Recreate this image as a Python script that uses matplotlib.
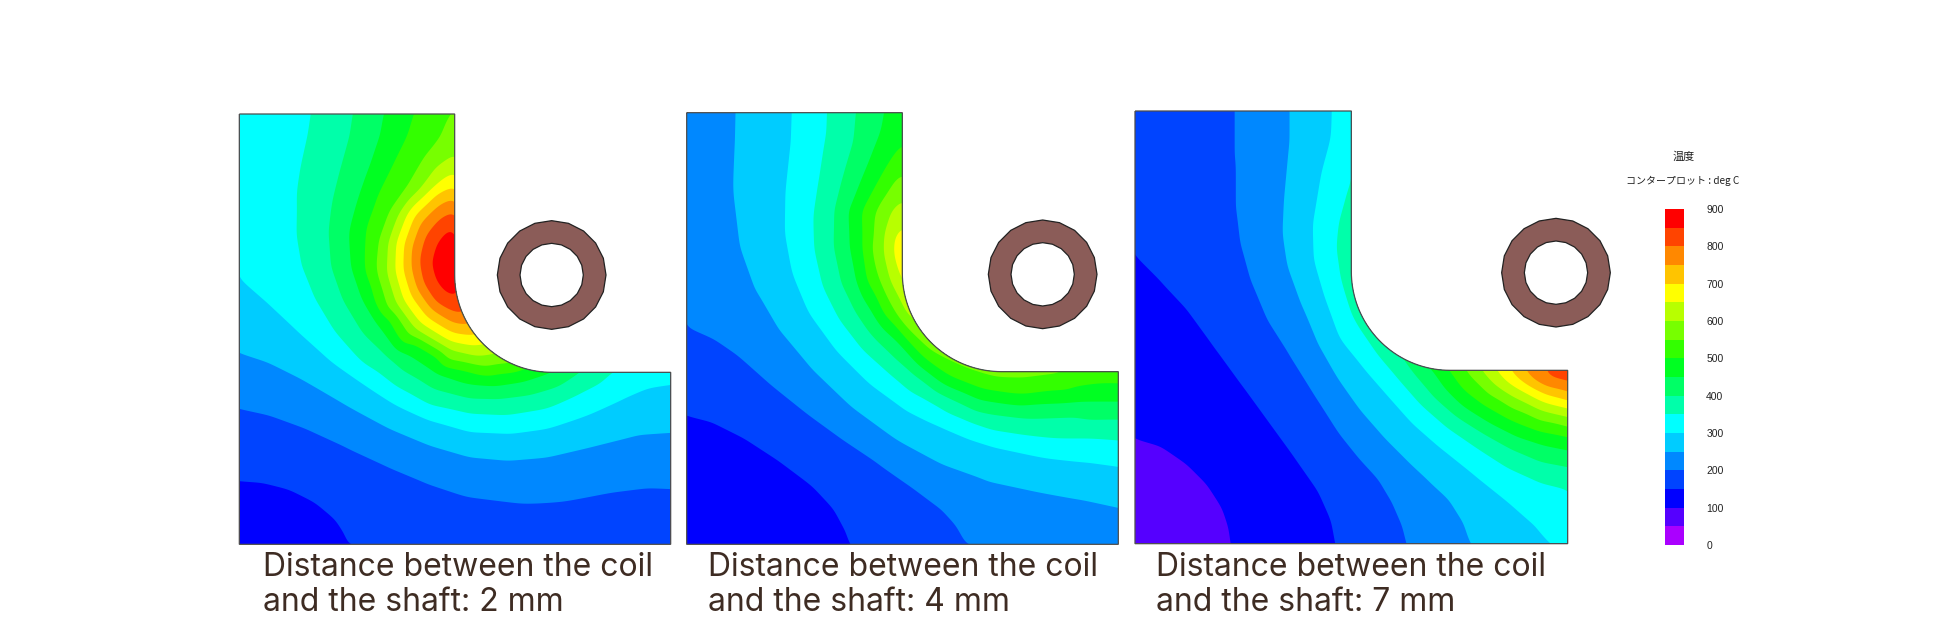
import numpy as np
import matplotlib
matplotlib.use('Agg')
import matplotlib.pyplot as plt
from matplotlib.colors import ListedColormap, BoundaryNorm
from matplotlib.cm import ScalarMappable
from matplotlib.patches import PathPatch, RegularPolygon
from matplotlib.path import Path
from matplotlib.tri import Triangulation, LinearTriInterpolator

############################## values ##############################

levels = list(range(0, 950, 50))
tick_values = list(range(0, 1000, 100))
band_colors = ['#aa00ff', '#5500ff', '#0000ff', '#0044ff', '#0088ff', '#00ccff',
               '#00ffff', '#00ffaa', '#00ff66', '#00ff22', '#33ff00', '#77ff00',
               '#b8ff00', '#ffff00', '#ffc400', '#ff8800', '#ff4400', '#ff0000']

captions = ['Distance between the coil\nand the shaft: 2 mm',
            'Distance between the coil\nand the shaft: 4 mm',
            'Distance between the coil\nand the shaft: 7 mm']

# isotherms: temperature -> points on that line (x, y)
panel1_isotherms = {
    150: [(28,1140),(100,1145),(180,1165),(260,1205),(320,1255),(345,1290),(360,1333)],
    200: [(28,925),(120,945),(230,985),(350,1040),(480,1100),(600,1150),(720,1190),(880,1210),
          (1000,1200),(1130,1175),(1250,1160),(1322,1163)],
    250: [(28,760),(120,790),(230,845),(350,915),(480,985),(600,1035),(720,1070),(830,1080),
          (950,1070),(1100,1035),(1220,1005),(1322,998)],
    300: [(28,535),(120,615),(200,690),(300,780),(400,850),(500,915),(600,960),(720,995),
          (840,1000),(950,985),(1070,945),(1180,895),(1265,858),(1322,850)],
    350: [(250,42),(240,110),(220,200),(205,300),(203,400),(220,500),(260,600),(320,700),
          (400,790),(500,860),(600,915),(720,940),(830,945),(950,925),(1050,880),(1110,850),(1145,817)],
    400: [(370,42),(360,110),(335,200),(310,300),(298,400),(305,500),(340,600),(400,700),
          (480,775),(570,840),(680,885),(800,897),(900,885),(985,860),(1030,830),(1050,817)],
    450: [(462,42),(450,110),(420,200),(385,300),(358,400),(365,500),(395,590),(450,680),
          (530,760),(620,820),(720,852),(800,858),(880,845),(940,825),(965,817)],
    500: [(550,42),(530,110),(490,190),(445,280),(410,380),(405,470),(425,560),(475,650),
          (545,725),(630,775),(720,815),(800,822),(860,815),(895,803)],
    550: [(670,42),(640,100),(590,165),(530,270),(480,340),(447,430),(445,530),(475,630),
          (540,710),(650,780),(770,800),(850,792)],
    600: [(674,162),(620,200),(570,270),(507,340),(475,430),(472,520),(500,610),(560,690),
          (660,750),(740,770),(805,760)],
    650: [(674,215),(635,240),(590,280),(530,345),(498,430),(495,510),(520,600),(570,670),
          (660,725),(730,738),(775,730)],
    700: [(674,258),(615,285),(555,345),(523,430),(520,510),(545,590),(595,655),(670,700),(750,702)],
    750: [(674,292),(625,315),(570,370),(545,440),(545,510),(570,580),(615,635),(670,670),(725,675)],
    800: [(674,332),(630,355),(585,410),(568,480),(580,550),(615,605),(665,635),(705,642)],
    850: [(674,378),(645,390),(615,430),(598,490),(615,550),(645,585),(690,598)],
}
panel1_spots = [(28,42,325), (674,42,570), (28,1333,125), (1322,1333,175), (1322,817,325), (676,480,890)]

panel2_isotherms = {
    150: [(20,940),(100,960),(200,1010),(300,1075),(400,1150),(470,1225),(505,1285),(518,1333)],
    200: [(20,680),(100,715),(180,770),(270,850),(370,930),(480,1010),(600,1090),(700,1160),
          (780,1220),(835,1280),(863,1333)],
    250: [(170,38),(168,130),(162,280),(180,430),(230,570),(300,690),(400,810),(520,925),
          (650,1020),(780,1090),(920,1140),(1060,1170),(1200,1195),(1315,1220)],
    300: [(338,38),(335,130),(320,270),(318,400),(340,520),(390,640),(470,750),(570,850),
          (680,930),(740,960),(800,985),(870,1015),(950,1040),(1100,1072),(1220,1085),(1315,1098)],
    350: [(442,38),(440,100),(420,230),(402,350),(405,450),(430,560),(480,660),(550,750),
          (640,830),(760,910),(880,970),(1000,1000),(1130,1015),(1250,1015),(1315,1020)],
    400: [(528,38),(520,130),(490,230),(465,330),(462,440),(485,550),(530,640),(600,730),
          (700,820),(800,890),(920,940),(1040,955),(1180,950),(1315,958)],
    450: [(610,38),(600,100),(565,190),(525,290),(510,440),(530,540),(580,640),(660,730),
          (780,845),(900,900),(1040,915),(1200,905),(1315,905)],
    500: [(667,130),(620,200),(570,290),(548,440),(560,540),(610,640),(700,740),(810,830),
          (900,865),(1000,880),(1120,870),(1250,850),(1315,852)],
    550: [(667,218),(645,240),(600,310),(585,340),(575,440),(600,540),(650,640),(750,750),
          (860,805),(960,840),(1030,848),(1130,835),(1165,815)],
    600: [(667,295),(635,330),(613,400),(612,460),(630,540),(675,640),(750,710)],
    650: [(667,375),(650,400),(643,430),(643,470),(650,500),(665,545),(675,565)],
}
panel2_spots = [(20,38,225), (667,38,475), (20,1333,125), (1315,1333,225), (1315,815,525), (667,440,700)]

panel3_isotherms = {
    100: [(30,1012),(110,1035),(190,1090),(250,1150),(295,1220),(315,1280),(322,1331)],
    150: [(30,465),(110,545),(190,630),(270,740),(350,850),(430,960),(510,1070),(580,1170),
          (620,1260),(633,1331)],
    200: [(337,33),(337,180),(337,320),(350,430),(380,540),(430,660),(500,770),(575,890),
          (645,1000),(705,1075),(765,1140),(800,1200),(830,1270),(845,1331)],
    250: [(495,33),(495,130),(480,290),(475,400),(490,500),(530,610),(580,730),(645,845),
          (705,930),(775,1010),(845,1080),(915,1145),(975,1200),(1015,1265),(1037,1331)],
    300: [(622,33),(620,110),(590,220),(565,370),(568,480),(600,590),(645,715),(715,800),
          (785,880),(865,970),(945,1040),(1045,1120),(1145,1200),(1230,1275),(1283,1331)],
    350: [(679,240),(660,280),(640,360),(632,440),(640,530),(675,640),(707,690),(755,760),
          (815,830),(885,910),(965,980),(1045,1035),(1145,1100),(1245,1145),(1328,1165)],
    400: [(830,770),(865,820),(925,890),(995,950),(1075,1000),(1165,1050),(1245,1085),(1328,1100)],
    450: [(917,803),(955,860),(1015,920),(1095,970),(1175,1010),(1255,1035),(1328,1050)],
    500: [(975,812),(1015,870),(1075,915),(1155,960),(1245,995),(1328,1010)],
    550: [(1023,812),(1065,855),(1125,900),(1205,940),(1275,965),(1328,980)],
    600: [(1070,812),(1105,850),(1165,890),(1245,930),(1328,950)],
    650: [(1115,812),(1145,845),(1205,880),(1265,910),(1328,925)],
    700: [(1158,812),(1185,840),(1235,870),(1285,890),(1328,902)],
    750: [(1200,812),(1225,840),(1265,860),(1328,875)],
    800: [(1255,812),(1275,835),(1328,845)],
}
panel3_spots = [(30,33,175), (679,33,330), (30,1331,80), (1328,1331,325), (1328,812,835)]

################################# layout of the picture #################################

FIG_W, FIG_H = 1945, 626

# (left, top) of a panel in figure pixels, then its corners and fillet as read above
panel_origin = [(230, 100), (680, 100), (1125, 100)]
panel_box = [(28, 42, 1322, 1333), (20, 38, 1315, 1333), (30, 33, 1328, 1331)]
panel_step = [(674, 817, 965, 525), (667, 815, 965, 520), (679, 811, 975, 515)]
ring_center = [(965, 525), (1088, 523), (1293, 518)]
caption_pos = [(263, 611), (708, 611), (1156, 611)]


def px_axes(fig, left, top, right, bottom):
    ax = fig.add_axes([left / FIG_W, 1 - bottom / FIG_H,
                       (right - left) / FIG_W, (bottom - top) / FIG_H])
    return ax


def step_outline(box, step):
    x0, y0, x1, y1 = box
    sx, sy, cx, cy = step
    r = cx - sx
    a = np.linspace(np.pi, np.pi / 2, 40)
    verts = [(x0, y0), (sx, y0)]
    verts += list(zip(cx + r * np.cos(a), cy + (sy - cy) * np.sin(a)))
    verts += [(x1, sy), (x1, y1), (x0, y1), (x0, y0)]
    codes = [Path.MOVETO] + [Path.LINETO] * (len(verts) - 1)
    return Path(verts, codes)


def smooth_field(tri, ts, box, sigma=15.0):
    x0, y0, x1, y1 = box
    gx = np.linspace(x0 + 0.25, x1 - 0.25, int((x1 - x0) / 1.5))
    gy = np.linspace(y0 + 0.25, y1 - 0.25, int((y1 - y0) / 1.5))
    xx, yy = np.meshgrid(gx, gy)
    z = LinearTriInterpolator(tri, ts)(xx, yy).filled(np.nan)
    for row in z:
        # outside the hull is only the empty notch side
        good = np.where(~np.isnan(row))[0]
        row[good[-1] + 1:] = row[good[-1]]
        row[:good[0]] = row[good[0]]
    half = int(3 * sigma / 1.5)
    k = np.exp(-0.5 * (np.arange(-half, half + 1) * 1.5 / sigma) ** 2)
    k /= k.sum()
    z = np.pad(z, half, mode='reflect', reflect_type='odd')
    z = np.apply_along_axis(lambda v: np.convolve(v, k, mode='same'), 0, z)
    z = np.apply_along_axis(lambda v: np.convolve(v, k, mode='same'), 1, z)
    return gx, gy, z[half:-half, half:-half]


################################### draw the figure ###################################

plt.rcParams['font.family'] = ['Liberation Sans', 'DejaVu Sans']
fig = plt.figure(figsize=(FIG_W / 100, FIG_H / 100), dpi=100, facecolor='white')

cmap = ListedColormap(band_colors)
norm = BoundaryNorm(levels, cmap.N)

isotherms = [panel1_isotherms, panel2_isotherms, panel3_isotherms]
spots = [panel1_spots, panel2_spots, panel3_spots]

for i in range(3):
    ox, oy = panel_origin[i]
    x0, y0, x1, y1 = panel_box[i]
    ax = px_axes(fig, ox + x0 / 3, oy + y0 / 3, ox + x1 / 3, oy + y1 / 3)
    ax.axis('off')

    xs, ys, ts = [], [], []
    for temp, line in isotherms[i].items():
        for x, y in line:
            xs.append(x)
            ys.append(y)
            ts.append(temp)
    for x, y, temp in spots[i]:
        xs.append(x)
        ys.append(y)
        ts.append(temp)
    xs, ys, ts = np.array(xs, float), np.array(ys, float), np.array(ts, float)

    shape = step_outline(panel_box[i], panel_step[i])
    outline = PathPatch(shape, facecolor='none', edgecolor='#4d4d4d', linewidth=0.9,
                        clip_on=False, zorder=3)
    ax.add_patch(outline)

    gx, gy, z = smooth_field(Triangulation(xs, ys), ts, panel_box[i])

    # paint "hotter than" layers from cold to hot, so no seams show between the bands
    for lev, col in zip(levels[:-1], band_colors):
        if z.max() <= lev:
            continue
        layer = ax.contourf(gx, gy, z, levels=[lev, 2000], colors=[col], antialiased=True)
        layer.set_clip_path(outline)

    ax.set_xlim(x0, x1)
    ax.set_ylim(y1, y0)

    # coil section, drawn as the faceted ring of the mesh
    cx, cy = ring_center[i]
    ax.add_patch(RegularPolygon((cx, cy), 20, radius=163, facecolor='#8b5c58',
                                edgecolor='#222222', linewidth=0.9, clip_on=False, zorder=4))
    ax.add_patch(RegularPolygon((cx, cy), 20, radius=95, facecolor='white',
                                edgecolor='#222222', linewidth=0.9, clip_on=False, zorder=5))

    fig.text(caption_pos[i][0] / FIG_W, 1 - caption_pos[i][1] / FIG_H, captions[i],
             family='Inter', fontsize=23, color='#3e2c23', ha='left', va='baseline',
             linespacing=1.15)

# legend bar
cax = px_axes(fig, 1665, 209, 1684, 545)
cbar = fig.colorbar(ScalarMappable(norm=norm, cmap=cmap), cax=cax, spacing='proportional',
                    ticks=tick_values, drawedges=False)
cbar.outline.set_visible(False)
cbar.ax.minorticks_off()
cbar.ax.tick_params(which='both', length=0, pad=16, labelsize=7.5, labelcolor='#222222')

cjk = ['Noto Sans CJK JP', 'DejaVu Sans']
fig.text(1684 / FIG_W, 1 - 157 / FIG_H, '温度', family=cjk, fontsize=8, color='#222222',
         ha='center', va='center')
fig.text(1683 / FIG_W, 1 - 181 / FIG_H, 'コンタープロット : deg C', family=cjk, fontsize=7.2,
         color='#222222', ha='center', va='center')

fig.savefig('out.png', dpi=100)
